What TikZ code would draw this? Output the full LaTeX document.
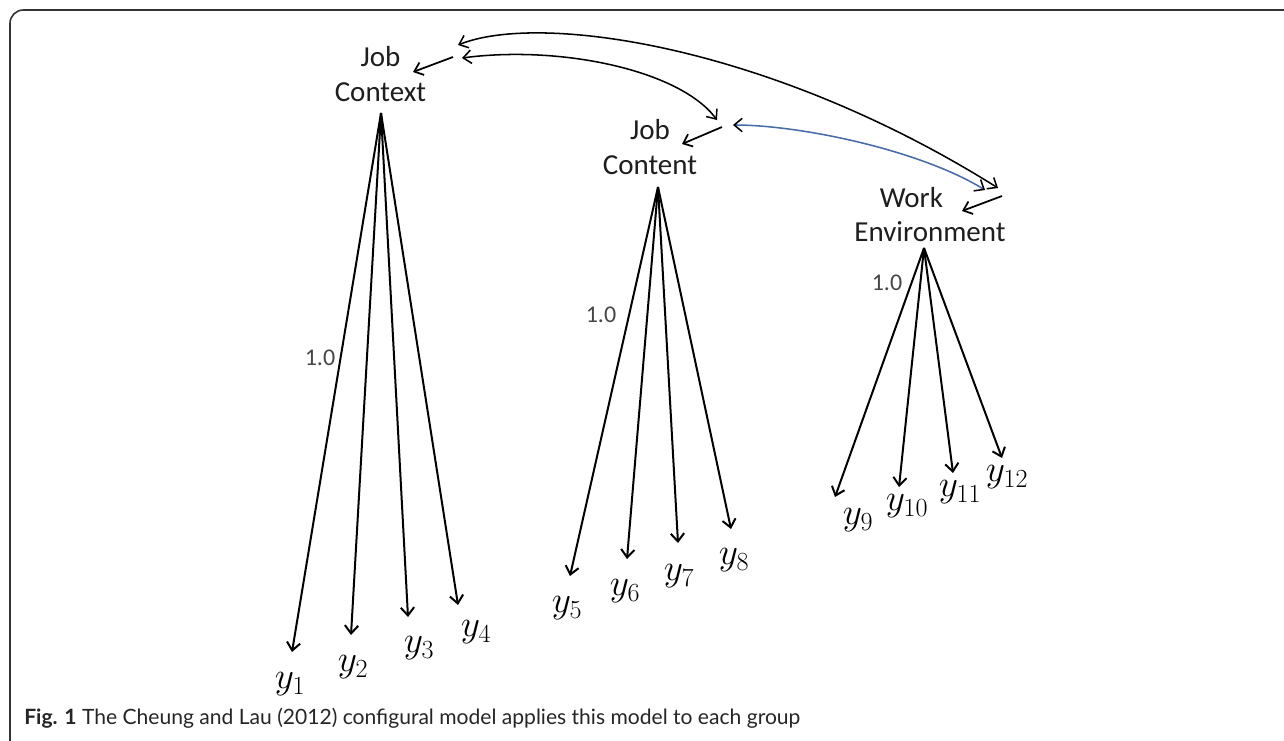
\RequirePackage{fix-cm}
\documentclass[tikz,border=0pt]{standalone}
\usepackage{fontspec}
\setmainfont{Carlito}
\newfontfamily\capfont{Lato}
\usetikzlibrary{arrows.meta}
\definecolor{bluecurve}{RGB}{72,108,168}
\definecolor{txt}{RGB}{30,30,30}
\begin{document}
\begin{tikzpicture}[x=0.75pt,y=-0.75pt,
  lbl/.style={font=\fontsize{21.75}{26}\selectfont, align=center, inner sep=0pt, text=txt},
  num/.style={font=\fontsize{18}{20}\selectfont, text=black!72, inner sep=0pt},
  obs/.style={font=\fontsize{28}{30}\selectfont, inner sep=0pt},
  ar/.style={-{Straight Barb[length=6pt,width=10pt]}, line width=1.5pt},
  resid/.style={-{Straight Barb[length=6pt,width=10pt]}, line width=1.3pt},
  cov/.style={{Straight Barb[length=6pt,width=10pt]}-{Straight Barb[length=6pt,width=10pt]}, line width=1.15pt},
  bcov/.style={{Straight Barb[length=6pt,width=10pt,color=black]}-{Straight Barb[length=6pt,width=10pt,color=black]}, line width=1.15pt, draw=bluecurve},
  framel/.style={draw=black!80, line width=1.2pt, rounded corners=10},
  caption/.style={font=\capfont\fontsize{15.8}{18}\selectfont, inner sep=0pt, text=black!85}
]
\useasboundingbox (0,0) rectangle (1284,740);
\fill[white] (0,0) rectangle (1284,740);
\draw[framel] (1300,10) -- (10,10) -- (10,760);

% factors
\node[lbl] (jctx) at (380.5,74) {Job\\Context};
\node[lbl] (jcnt) at (650,147) {Job\\Content};
\node[lbl] (wenv) at (930,214.5) {Work\hspace*{28pt}\\Environment};

\coordinate (a1) at (381,113);
\coordinate (a2) at (658,187);
\coordinate (a3) at (924,248);

% tips of loadings
\coordinate (t1) at (292,652);
\coordinate (t2) at (351,635);
\coordinate (t3) at (408,617);
\coordinate (t4) at (458,605);
\coordinate (t5) at (570,576);
\coordinate (t6) at (627,559);
\coordinate (t7) at (678,543);
\coordinate (t8) at (731,529);
\coordinate (t9) at (835,497);
\coordinate (t10) at (899,487);
\coordinate (t11) at (953,473);
\coordinate (t12) at (1002,458);

% observed labels
\node[obs] (y1) at (290,684) {$y_1$};
\node[obs] (y2) at (353,667) {$y_2$};
\node[obs] (y3) at (419,648) {$y_3$};
\node[obs] (y4) at (476,632) {$y_4$};
\node[obs] (y5) at (567,608) {$y_5$};
\node[obs] (y6) at (625,591) {$y_6$};
\node[obs] (y7) at (679,576) {$y_7$};
\node[obs] (y8) at (734,560) {$y_8$};
\node[obs] (y9) at (858,520) {$y_9$};
\node[obs] (y10) at (907,506) {$y_{10}$};
\node[obs] (y11) at (960,492) {$y_{11}$};
\node[obs] (y12) at (1007,477) {$y_{12}$};

% loadings
\foreach \i in {1,2,3,4} \draw[ar] (a1) -- (t\i);
\foreach \i in {5,6,7,8} \draw[ar] (a2) -- (t\i);
\foreach \i in {9,10,11,12} \draw[ar] (a3) -- (t\i);

\node[num] (n1) at (320,358) {1.0};
\node[num] (n2) at (601,315) {1.0};
\node[num] (n3) at (887,283) {1.0};

% residual variances
\coordinate (r1s) at (453,57);  \coordinate (r1e) at (413,72);
\coordinate (r2s) at (722,127); \coordinate (r2e) at (682,144);
\coordinate (r3s) at (1002,196); \coordinate (r3e) at (962,211);
\draw[resid] (r1s) -- (r1e);
\draw[resid] (r2s) -- (r2e);
\draw[resid] (r3s) -- (r3e);

% covariances
\coordinate (cA1) at (458,45);  \coordinate (cA2) at (998,188);
\coordinate (cB1) at (462,58);  \coordinate (cB2) at (717,120);
\coordinate (cC1) at (733,125); \coordinate (cC2) at (985,190);
\draw[cov] (cA1) .. controls (540,12) and (770,45) .. (cA2);
\draw[cov] (cB1) .. controls (560,45) and (680,70) .. (cB2);
\draw[bcov] (cC1) .. controls (800,125) and (920,150) .. (cC2);

\node[caption, anchor=base west] (cap) at (24,724) {\textbf{Fig. 1} The Cheung and Lau (2012) configural model applies this model to each group};
\end{tikzpicture}
\end{document}
